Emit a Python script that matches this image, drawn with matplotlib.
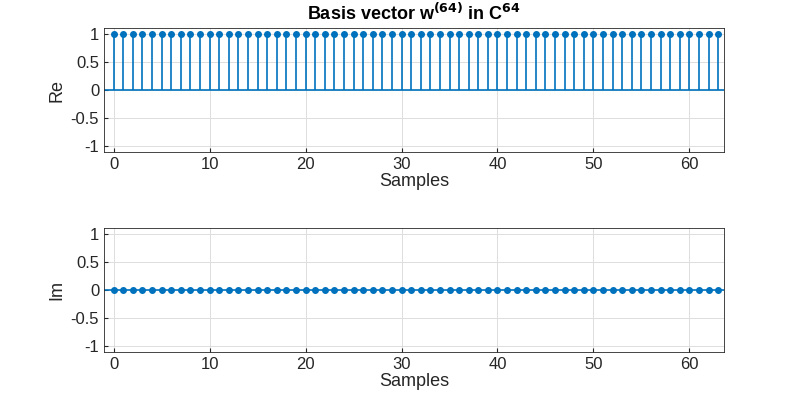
import numpy as np
import matplotlib
matplotlib.use('Agg')
import matplotlib.pyplot as plt

n = np.arange(64)
re_vals = [1.0] * 64
im_vals = [0.0] * 64
yticks = [-1, -0.5, 0, 0.5, 1]
yticklabels = ['-1', '-0.5', '0', '0.5', '1']

plt.rcParams['font.family'] = ['Liberation Sans', 'DejaVu Sans']
fig = plt.figure(figsize=(8, 4), dpi=100)
ax1 = fig.add_axes([0.13, 0.62, 0.775, 0.31])
ax2 = fig.add_axes([0.13, 0.12, 0.775, 0.31])

col = '#0072BD'
for ax, vals, lab in [(ax1, re_vals, 'Re'), (ax2, im_vals, 'Im')]:
    ml, sl, bl = ax.stem(n, vals, basefmt=' ')
    plt.setp(sl, color=col, linewidth=1.2)
    plt.setp(ml, color=col, markersize=4)
    ax.axhline(0, color=col, linewidth=1.2, zorder=1)
    ax.set_xlim(-1, 63.6)
    ax.set_ylim(-1.1, 1.1)
    ax.set_yticks(yticks)
    ax.set_yticklabels(yticklabels)
    ax.set_xticks([0, 10, 20, 30, 40, 50, 60])
    ax.grid(True, color='#dddddd', linewidth=0.7)
    ax.set_axisbelow(True)
    ax.tick_params(labelsize=12, direction='in', length=3, color='#262626', labelcolor='#262626')
    for s in ax.spines.values():
        s.set_color('#262626')
        s.set_linewidth(0.6)
    ax.set_ylabel(lab, fontsize=13, color='#262626')
    ax.set_xlabel('Samples', fontsize=13, color='#262626', labelpad=1)

ax1.set_title(r'Basis vector w$^{\mathbf{(64)}}$ in C$^{\mathbf{64}}$', fontsize=13, fontweight='bold')
fig.savefig('out.png')
